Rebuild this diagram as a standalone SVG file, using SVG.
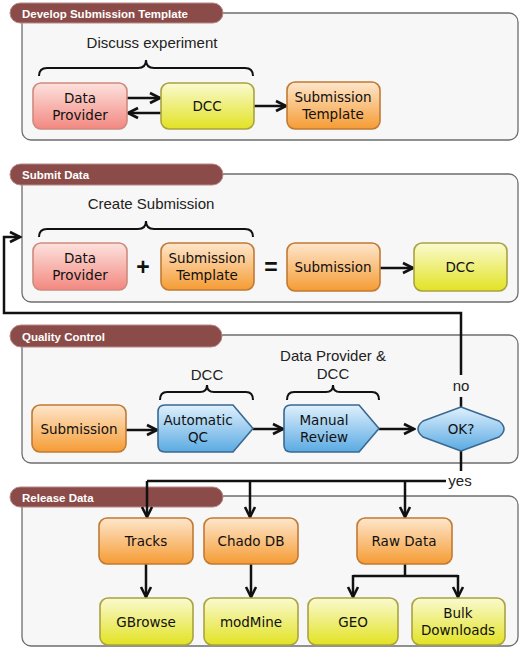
<svg xmlns="http://www.w3.org/2000/svg" width="520" height="648" viewBox="0 0 520 648">
<defs>
<linearGradient id="gPink" x1="0" y1="0" x2="0" y2="1"><stop offset="0" stop-color="#fde2de"/><stop offset="1" stop-color="#f28880"/></linearGradient>
<linearGradient id="gYel" x1="0" y1="0" x2="0" y2="1"><stop offset="0" stop-color="#fafad0"/><stop offset="1" stop-color="#e2e224"/></linearGradient>
<linearGradient id="gOr" x1="0" y1="0" x2="0" y2="1"><stop offset="0" stop-color="#fee6cc"/><stop offset="1" stop-color="#f59c34"/></linearGradient>
<linearGradient id="gBlue" x1="0" y1="0" x2="0" y2="1"><stop offset="0" stop-color="#dff0fd"/><stop offset="1" stop-color="#5aaae2"/></linearGradient>
<marker id="arr" markerUnits="userSpaceOnUse" markerWidth="14" markerHeight="14" viewBox="0 0 14 14" refX="12" refY="7" orient="auto">
<path d="M2,2 L12,7 L2,12" fill="none" stroke="#111" stroke-width="2.6" stroke-linejoin="miter"/>
</marker>
<style>
.panel{fill:#f7f7f7;stroke:#6e6e6e;stroke-width:1.3}
.pill{fill:#8b4b48;stroke:#b58a88;stroke-width:1}
.ptitle{font-family:"Liberation Sans",Arial,sans-serif;font-weight:bold;font-size:11.5px;fill:#ffffff}
.lbl{font-family:"Liberation Sans",Arial,sans-serif;font-size:15px;fill:#222;text-anchor:middle}
.nt{font-family:"DejaVu Sans","Noto Sans",sans-serif;font-size:13.5px;fill:#111;text-anchor:middle}
.pink{fill:url(#gPink);stroke:#cf8a7e;stroke-width:1.6}
.yel{fill:url(#gYel);stroke:#a9a242;stroke-width:1.6}
.or{fill:url(#gOr);stroke:#c07a34;stroke-width:1.6}
.blue{fill:url(#gBlue);stroke:#3a6890;stroke-width:1.6;stroke-linejoin:round}
.conn{fill:none;stroke:#111;stroke-width:2.5}
.brace{fill:none;stroke:#111;stroke-width:2}
.sym{font-family:"Liberation Sans",Arial,sans-serif;font-size:23px;font-weight:bold;fill:#111;text-anchor:middle}
</style>
</defs>

<!-- Panels -->
<g id="panel-develop">
<rect class="panel" x="22" y="13" width="496" height="127" rx="9"/>
<rect class="pill" x="10" y="3" width="213" height="20" rx="10"/>
<text class="ptitle" x="22" y="18">Develop Submission Template</text>
<text class="lbl" x="152" y="48">Discuss experiment</text>
<path class="brace" d="M39,76 Q39,68 47,68 H138 Q146,68 146,60 Q146,68 154,68 H245 Q253,68 253,76"/>
</g>
<g id="panel-submit">
<rect class="panel" x="22" y="174" width="496" height="128" rx="9"/>
<rect class="pill" x="10" y="164" width="213" height="21" rx="10.5"/>
<text class="ptitle" x="22" y="179">Submit Data</text>
<text class="lbl" x="151" y="209">Create Submission</text>
<path class="brace" d="M39,237 Q39,229 47,229 H138 Q146,229 146,221 Q146,229 154,229 H245 Q253,229 253,237"/>
<text class="sym" x="143" y="275">+</text>
<text class="sym" x="271" y="275">=</text>
</g>
<g id="panel-qc">
<rect class="panel" x="22" y="335" width="496" height="128" rx="9"/>
<rect class="pill" x="10" y="325" width="212" height="22" rx="11"/>
<text class="ptitle" x="22" y="341">Quality Control</text>
<text class="lbl" x="207" y="380">DCC</text>
<path class="brace" d="M160,400 Q160,392 167,392 H200 Q207,392 207,385 Q207,392 214,392 H246 Q253,392 253,400"/>
<text class="lbl" x="333" y="361">Data Provider &amp;</text>
<text class="lbl" x="333" y="379">DCC</text>
<path class="brace" d="M287,400 Q287,392 294,392 H326 Q333,392 333,385 Q333,392 340,392 H372 Q379,392 379,400"/>
</g>
<g id="panel-release">
<rect class="panel" x="22" y="496" width="496" height="150" rx="9"/>
<rect class="pill" x="10" y="487" width="213" height="20" rx="10"/>
<text class="ptitle" x="22" y="502">Release Data</text>
</g>

<!-- Connectors -->
<g id="connectors">
<path class="conn" d="M127,98 H160" marker-end="url(#arr)"/>
<path class="conn" d="M161,113 H128" marker-end="url(#arr)"/>
<path class="conn" d="M254,106 H286" marker-end="url(#arr)"/>
<path class="conn" d="M380,268 H413" marker-end="url(#arr)"/>
<path class="conn" d="M126,430 H157" marker-end="url(#arr)"/>
<path class="conn" d="M253,429 H283" marker-end="url(#arr)"/>
<path class="conn" d="M379,429 H414" marker-end="url(#arr)"/>
<path class="conn" d="M461,407 V397"/>
<path class="conn" d="M461,375 V313 H4 V237 H20" marker-end="url(#arr)"/>
<text class="lbl" x="461" y="391">no</text>
<path class="conn" d="M461,451 V471"/>
<text class="lbl" x="460" y="486">yes</text>
<path class="conn" d="M446,481 H147"/>
<path class="conn" d="M147,481 V517" marker-end="url(#arr)"/>
<path class="conn" d="M250,481 V517" marker-end="url(#arr)"/>
<path class="conn" d="M405,481 V517" marker-end="url(#arr)"/>
<path class="conn" d="M146,564 V597" marker-end="url(#arr)"/>
<path class="conn" d="M251,564 V597" marker-end="url(#arr)"/>
<path class="conn" d="M405,564 V576"/>
<path class="conn" d="M353,576 H458"/>
<path class="conn" d="M353,575 V597" marker-end="url(#arr)"/>
<path class="conn" d="M458,575 V597" marker-end="url(#arr)"/>
</g>

<!-- Nodes -->
<g id="n-dp1"><rect class="pink" x="33" y="83" width="94" height="46" rx="8"/><text class="nt" x="80" y="103">Data</text><text class="nt" x="80" y="120">Provider</text></g>
<g id="n-dcc1"><rect class="yel" x="161" y="83" width="93" height="46" rx="8"/><text class="nt" x="207" y="111">DCC</text></g>
<g id="n-st1"><rect class="or" x="287" y="82" width="93" height="47" rx="8"/><text class="nt" x="333" y="102">Submission</text><text class="nt" x="333" y="119">Template</text></g>

<g id="n-dp2"><rect class="pink" x="33" y="243" width="94" height="47" rx="8"/><text class="nt" x="80" y="263">Data</text><text class="nt" x="80" y="280">Provider</text></g>
<g id="n-st2"><rect class="or" x="161" y="243" width="93" height="47" rx="8"/><text class="nt" x="207" y="263">Submission</text><text class="nt" x="207" y="280">Template</text></g>
<g id="n-sub2"><rect class="or" x="287" y="243" width="93" height="48" rx="8"/><text class="nt" x="333" y="272">Submission</text></g>
<g id="n-dcc2"><rect class="yel" x="414" y="243" width="93" height="48" rx="8"/><text class="nt" x="460" y="272">DCC</text></g>

<g id="n-sub3"><rect class="or" x="32" y="405" width="94" height="47" rx="8"/><text class="nt" x="79" y="434">Submission</text></g>
<g id="n-aqc"><path class="blue" d="M165,405 H233 L253,428.5 L233,452 H165 Q158,452 158,445 V412 Q158,405 165,405 Z"/><text class="nt" x="198" y="425">Automatic</text><text class="nt" x="198" y="442">QC</text></g>
<g id="n-mr"><path class="blue" d="M291,405 H359 L379,428.5 L359,452 H291 Q284,452 284,445 V412 Q284,405 291,405 Z"/><text class="nt" x="324" y="425">Manual</text><text class="nt" x="324" y="442">Review</text></g>
<g id="n-ok"><path class="blue" d="M461,407 L499,421 Q509,429 499,437 L461,451 L423,437 Q413,429 423,421 Z"/><text class="nt" x="461" y="434">OK?</text></g>

<g id="n-tracks"><rect class="or" x="99" y="518" width="94" height="46" rx="8"/><text class="nt" x="146" y="546">Tracks</text></g>
<g id="n-chado"><rect class="or" x="204" y="518" width="94" height="46" rx="8"/><text class="nt" x="251" y="546">Chado DB</text></g>
<g id="n-raw"><rect class="or" x="357" y="518" width="95" height="46" rx="8"/><text class="nt" x="404" y="546">Raw Data</text></g>
<g id="n-gbrowse"><rect class="yel" x="100" y="598" width="93" height="47" rx="8"/><text class="nt" x="146" y="627">GBrowse</text></g>
<g id="n-modmine"><rect class="yel" x="204" y="598" width="94" height="47" rx="8"/><text class="nt" x="251" y="627">modMine</text></g>
<g id="n-geo"><rect class="yel" x="308" y="598" width="90" height="47" rx="8"/><text class="nt" x="353" y="627">GEO</text></g>
<g id="n-bulk"><rect class="yel" x="412" y="598" width="93" height="47" rx="8"/><text class="nt" x="458" y="618">Bulk</text><text class="nt" x="458" y="635">Downloads</text></g>
</svg>
